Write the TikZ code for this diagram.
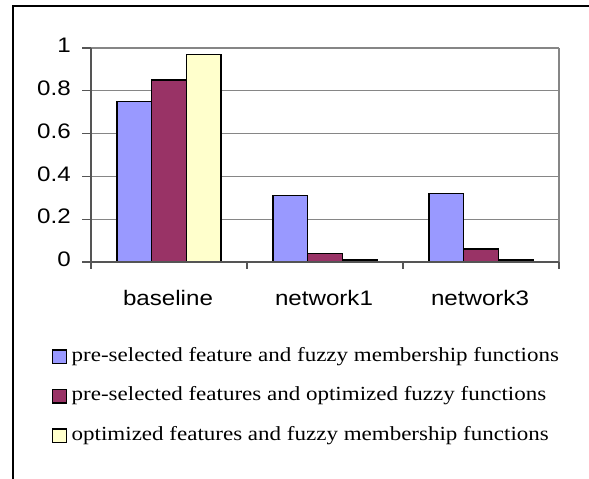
\documentclass[tikz,border=0pt]{standalone}
\usepackage{fontspec}
\setmainfont{Liberation Serif}[FakeStretch=1.15]
\newfontfamily\arialfont{Liberation Sans}[FakeStretch=1.15]
\definecolor{sblue}{HTML}{9999FF}
\definecolor{smaroon}{HTML}{993366}
\definecolor{syellow}{HTML}{FFFFCC}
\definecolor{gridgray}{HTML}{868686}
\definecolor{axisgray}{HTML}{555555}
\tikzset{
  barbox/.style={draw=black, line width=1.5pt},
  gridline/.style={draw=gridgray, line width=1.2pt},
  axisline/.style={draw=axisgray, line width=1.2pt},
  ylab/.style={font=\arialfont\fontsize{21}{24}\selectfont, anchor=east, inner sep=0pt},
  catlab/.style={font=\arialfont\fontsize{21}{24}\selectfont, anchor=base, inner sep=0pt},
  legtext/.style={font=\fontsize{20}{24}\selectfont, anchor=base west, inner sep=0pt},
  legbox/.style={draw=black, line width=1.5pt},
}
\begin{document}
\begin{tikzpicture}[x=1pt,y=-1pt]
\useasboundingbox (0,0) rectangle (589,479);
\fill[white] (0,0) rectangle (589,479);
% outer frame (top and left)
\draw[black, line width=2pt] (13,479) -- (13,5.5) -- (589,5.5);
% gridlines
\foreach \v in {0.2,0.4,0.6,0.8,1} {
  \draw[gridline] (91,{262-214*\v}) -- (559,{262-214*\v});
}
\draw[gridline] (559,48) -- (559,262);
% bars
\foreach \g/\a/\b/\c in {0/0.75/0.85/0.97, 1/0.31/0.04/0.01, 2/0.32/0.06/0.01} {
  \pgfmathsetmacro{\xs}{91+156*\g+26}
  \filldraw[barbox, fill=sblue] (\xs,262) rectangle ({\xs+34.667},{262-214*\a});
  \filldraw[barbox, fill=smaroon] ({\xs+34.667},262) rectangle ({\xs+69.333},{262-214*\b});
  \filldraw[barbox, fill=syellow] ({\xs+69.333},262) rectangle ({\xs+104},{262-214*\c});
}
% axes
\draw[axisline] (91,48) -- (91,269);
\draw[axisline] (82,262) -- (559,262);
\foreach \v in {0,0.2,0.4,0.6,0.8,1} {
  \draw[axisline] (82,{262-214*\v}) -- (91,{262-214*\v});
}
\foreach \x in {247,403,559} {
  \draw[axisline] (\x,262) -- (\x,269);
}
% y labels
\node[ylab] (y0) at (71,259.5) {0};
\node[ylab] (y2) at (71,216.7) {0.2};
\node[ylab] (y4) at (71,173.9) {0.4};
\node[ylab] (y6) at (71,131.1) {0.6};
\node[ylab] (y8) at (71,88.3) {0.8};
\node[ylab] (y10) at (71,45.5) {1};
% category labels
\node[catlab] (c1) at (168,305) {baseline};
\node[catlab] (c2) at (324,305) {network1};
\node[catlab] (c3) at (480,305) {network3};
% legend
\filldraw[legbox, fill=sblue] (52.5,350) rectangle (66.5,363.5);
\filldraw[legbox, fill=smaroon] (52.5,389.5) rectangle (66.5,403);
\filldraw[legbox, fill=syellow] (52.5,429) rectangle (66.5,442.5);
\node[legtext] (l1) at (71.5,361) {pre-selected feature and fuzzy membership functions};
\node[legtext] (l2) at (71.5,400.5) {pre-selected features and optimized fuzzy functions};
\node[legtext] (l3) at (71.5,440) {optimized features and fuzzy membership functions};
\end{tikzpicture}
\end{document}
